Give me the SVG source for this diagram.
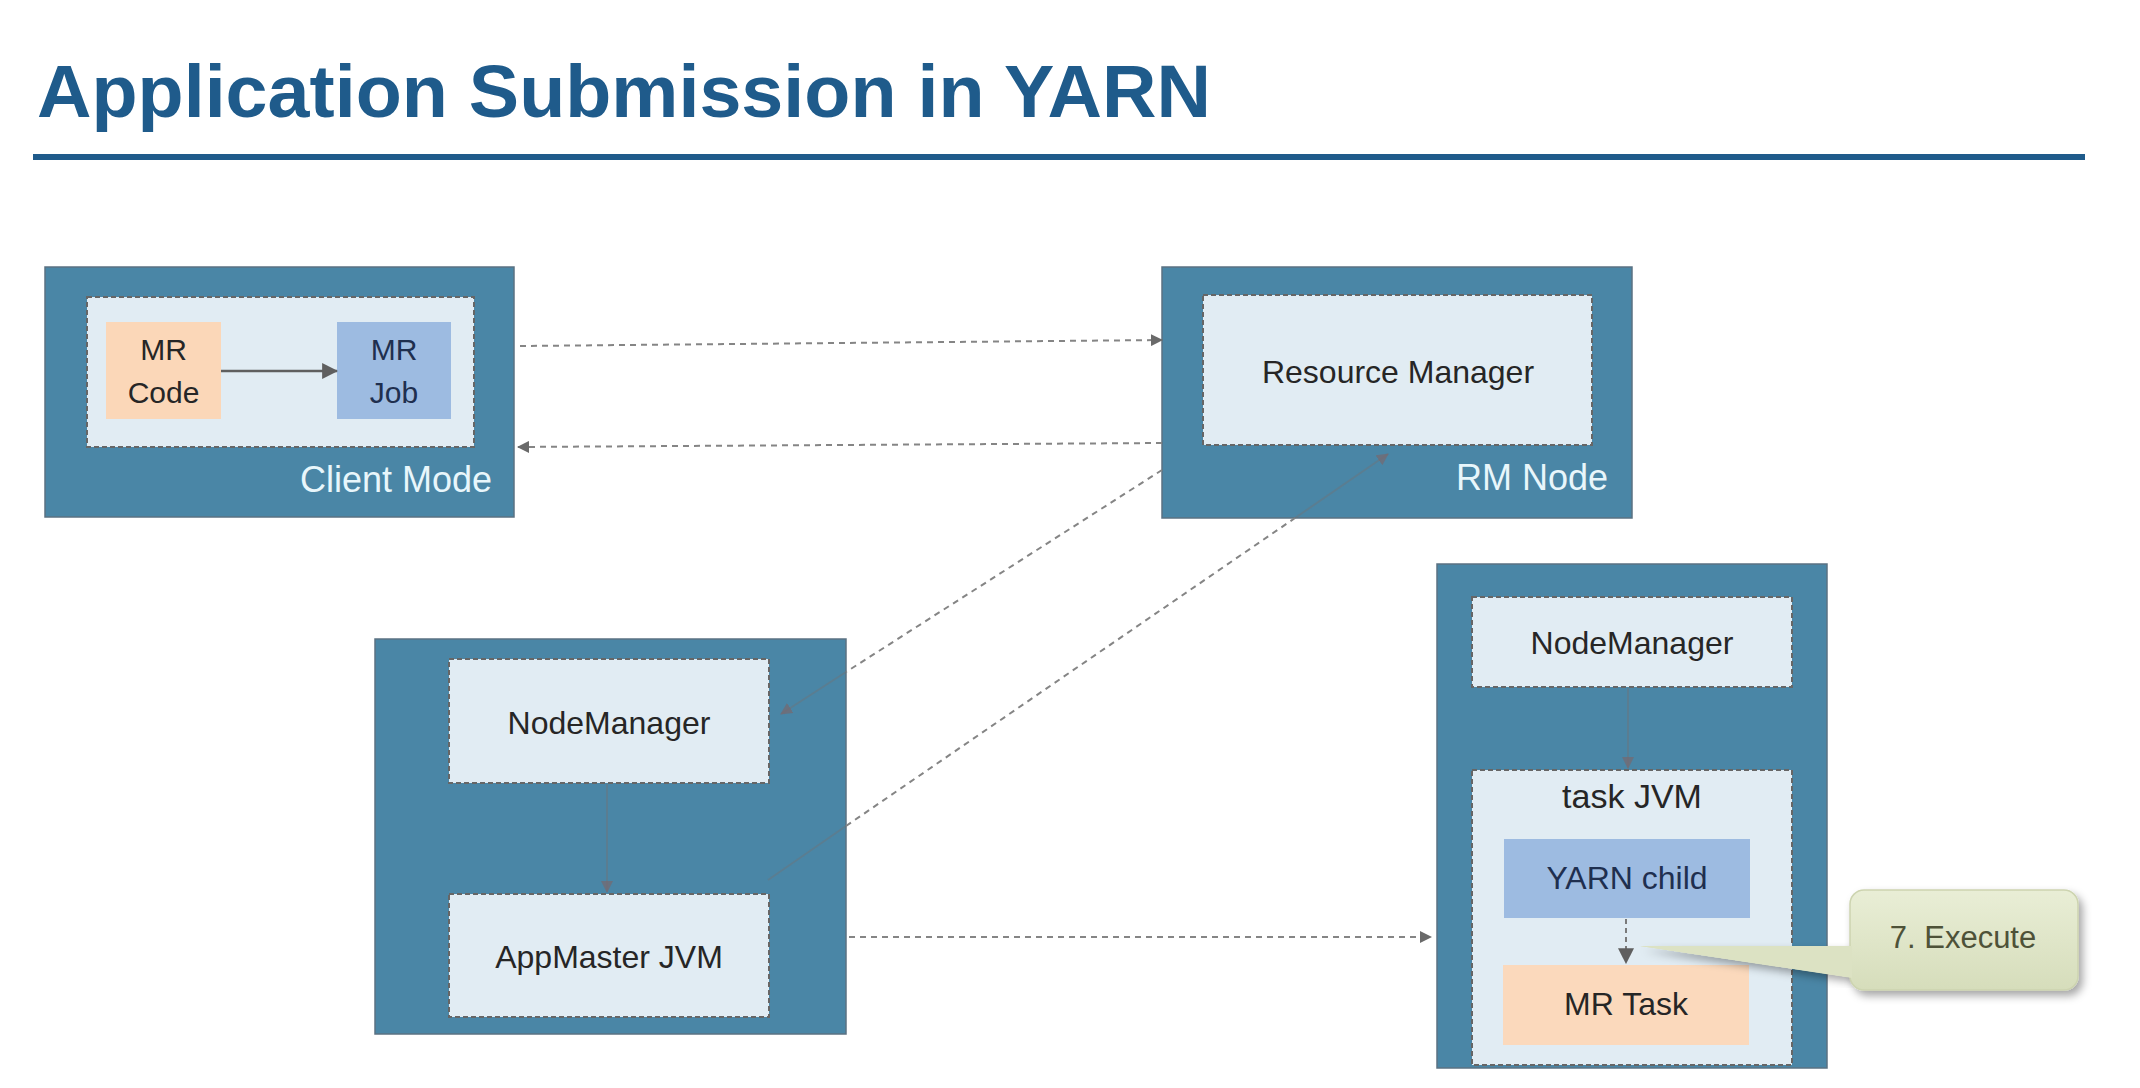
<svg xmlns="http://www.w3.org/2000/svg" width="2140" height="1088" viewBox="0 0 2140 1088">
<style>
.outer{fill:#4a86a6;stroke:#5b7282;stroke-width:1.5}
.inner{fill:#e1ecf3;stroke:#666;stroke-width:2;stroke-dasharray:5 3}
.lbl{font-family:"Liberation Sans",Arial,sans-serif;font-size:32px;fill:#262626;text-anchor:middle}
.cap{font-family:"Liberation Sans",Arial,sans-serif;font-size:36px;fill:#e8f6fb;text-anchor:end}
.dash{fill:none;stroke:#858585;stroke-width:2;stroke-dasharray:6 5}
.dim{fill:none;stroke:#6f7378;stroke-opacity:0.45;stroke-width:2}
</style>
<defs>
<marker id="ah" viewBox="0 0 12 12" refX="11" refY="6" markerWidth="12" markerHeight="12" markerUnits="userSpaceOnUse" orient="auto"><path d="M0,0 L12,6 L0,12 z" fill="#6a6a6a"/></marker>
<marker id="ahd" viewBox="0 0 12 12" refX="11" refY="6" markerWidth="12" markerHeight="12" markerUnits="userSpaceOnUse" orient="auto"><path d="M0,0 L12,6 L0,12 z" fill="#76686f" fill-opacity="0.7"/></marker>
<marker id="ahs" viewBox="0 0 14 14" refX="13" refY="7" markerWidth="16" markerHeight="16" markerUnits="userSpaceOnUse" orient="auto"><path d="M0,0 L14,7 L0,14 z" fill="#5f5f5f"/></marker>
<linearGradient id="cg" x1="0" y1="0" x2="0" y2="1"><stop offset="0" stop-color="#e9eed6"/><stop offset="1" stop-color="#d6ddbb"/></linearGradient>
<filter id="sh" x="-10%" y="-10%" width="130%" height="140%"><feDropShadow dx="4" dy="5" stdDeviation="4" flood-color="#000" flood-opacity="0.35"/></filter>
</defs>
<rect width="2140" height="1088" fill="#ffffff"/>
<g id="title">
<text x="37" y="117" font-family="'Liberation Sans',Arial,sans-serif" font-weight="bold" font-size="75" fill="#1f5b8b" textLength="1174" lengthAdjust="spacingAndGlyphs">Application Submission in YARN</text>
<rect x="33" y="154" width="2052" height="6" fill="#1f5b8b"/>
</g>
<g id="client-node">
<rect class="outer" x="45" y="267" width="469" height="250"/>
<rect class="inner" x="87" y="297" width="387" height="150"/>
<text class="cap" x="492" y="492">Client Mode</text>
</g>
<g id="mr-code">
<rect x="106" y="322" width="115" height="97" fill="#fbd7b8"/>
<text class="lbl" x="163.5" y="360" style="font-size:30px">MR</text>
<text class="lbl" x="163.5" y="403" style="font-size:30px">Code</text>
</g>
<g id="mr-job">
<rect x="337" y="322" width="114" height="97" fill="#9dbbe1"/>
<text class="lbl" x="394" y="360" style="font-size:30px;fill:#1f2f4f">MR</text>
<text class="lbl" x="394" y="403" style="font-size:30px;fill:#1f2f4f">Job</text>
</g>
<g id="rm-node">
<rect class="outer" x="1162" y="267" width="470" height="251"/>
<text class="cap" x="1608" y="490">RM Node</text>
</g>
<g id="resource-manager">
<rect class="inner" x="1203" y="295" width="389" height="150"/>
<text class="lbl" x="1398" y="383">Resource Manager</text>
</g>
<g id="am-node">
<rect class="outer" x="375" y="639" width="471" height="395"/>
</g>
<g id="node-manager-1">
<rect class="inner" x="449" y="659" width="320" height="124"/>
<text class="lbl" x="609" y="734">NodeManager</text>
</g>
<g id="appmaster-jvm">
<rect class="inner" x="449" y="894" width="320" height="123"/>
<text class="lbl" x="609" y="968">AppMaster JVM</text>
</g>
<g id="task-node">
<rect class="outer" x="1437" y="564" width="390" height="504"/>
</g>
<g id="node-manager-2">
<rect class="inner" x="1472" y="597" width="320" height="90"/>
<text class="lbl" x="1632" y="654">NodeManager</text>
</g>
<g id="task-jvm">
<rect class="inner" x="1472" y="770" width="320" height="295"/>
<text class="lbl" x="1632" y="808" style="font-size:34px">task JVM</text>
</g>
<g id="yarn-child">
<rect x="1504" y="839" width="246" height="79" fill="#9dbbe1"/>
<text class="lbl" x="1627" y="889" style="fill:#1f2f4f">YARN child</text>
</g>
<g id="mr-task">
<rect x="1503" y="965" width="246" height="80" fill="#fbd9bc"/>
<text class="lbl" x="1626" y="1015">MR Task</text>
</g>
<g id="connectors">
<line x1="221" y1="371" x2="337" y2="371" stroke="#5f5f5f" stroke-width="2.5" marker-end="url(#ahs)"/>
<line class="dash" x1="520" y1="346" x2="1162" y2="340" marker-end="url(#ah)"/>
<line class="dash" x1="1162" y1="443" x2="518" y2="447" marker-end="url(#ah)"/>
<line class="dash" x1="1162" y1="470" x2="846" y2="672"/>
<line class="dim" x1="846" y1="672" x2="781" y2="714" marker-end="url(#ahd)"/>
<line class="dim" x1="768" y1="880" x2="846" y2="826"/>
<line class="dash" x1="846" y1="826" x2="1295" y2="518"/>
<line class="dim" x1="1295" y1="518" x2="1388" y2="454" marker-end="url(#ahd)"/>
<line class="dim" x1="607" y1="784" x2="607" y2="892" marker-end="url(#ahd)"/>
<line class="dash" x1="849" y1="937" x2="1431" y2="937" marker-end="url(#ah)"/>
<line class="dim" x1="1628" y1="688" x2="1628" y2="768" marker-end="url(#ahd)"/>
<line x1="1626" y1="919" x2="1626" y2="963" stroke="#7a7a7a" stroke-width="2" stroke-dasharray="5 4" marker-end="url(#ahs)"/>
</g>
<g id="callout-execute">
<path d="M1640,946 L1856,946 L1856,978 Z" fill="#d9dfbf" filter="url(#sh)"/>
<rect x="1850" y="890" width="228" height="100" rx="14" fill="url(#cg)" stroke="#cdd4b0" stroke-width="1.5" filter="url(#sh)"/>
<path d="M1640,946 L1852,946 L1852,978 Z" fill="#dce2c3"/>
<text x="1963" y="948" font-family="'Liberation Sans',Arial,sans-serif" font-size="31" fill="#4e5238" text-anchor="middle">7. Execute</text>
</g>
</svg>
